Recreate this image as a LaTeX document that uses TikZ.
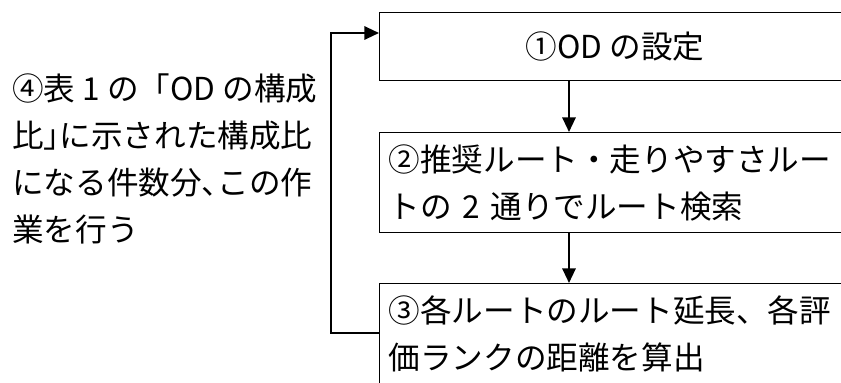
\documentclass[tikz,border=0pt]{standalone}
\usepackage{fontspec}
\setmainfont{Noto Sans CJK JP}
\newfontfamily\halfpunct[RawFeature=+halt]{Noto Sans CJK JP}
\usetikzlibrary{positioning,arrows.meta}
\tikzset{
  stepbox/.style={rectangle,draw,line width=1.1pt,minimum width=353.25pt,inner xsep=6.75pt,inner ysep=0pt,
                  font=\fontsize{23.7pt}{35.25pt}\selectfont},
  twoline/.style={stepbox,minimum height=75pt,text width=339.75pt,align=left},
  note/.style={inner sep=0pt,align=left,font=\fontsize{23.7pt}{35.25pt}\selectfont},
  flow/.style={-{Triangle[length=11pt,width=10pt]},line width=1.6pt},
}
\begin{document}
\begin{tikzpicture}[x=0.75pt,y=-0.75pt]
  \useasboundingbox (0,0) rectangle (841,382);
  \clip (0,0) rectangle (841,382);
  % steps
  \node[stepbox,minimum height=51pt,anchor=north west] (setod) at (379,12) {①OD の設定};
  \node[twoline,anchor=north west] (search) at (379,132) {②推奨ルート・走りやすさルー\\トの 2 通りでルート検索};
  \node[twoline,anchor=north west] (calc) at (379,283) {③各ルートのルート延長、各評\\価ランクの距離を算出};
  % repeat note
  \node[note,anchor=north west] (repeat) at (12,73)
    {④表 1 の「OD の構成\\比{\halfpunct 」}に示された構成比\\になる件数分{\halfpunct 、}この作\\業を行う};
  % arrows
  \coordinate (col) at (569,0);
  \coordinate (rail) at (331,33);
  \draw[flow] (setod.south -| col) -- (search.north -| col);
  \draw[flow] (search.south -| col) -- (calc.north -| col);
  \draw[flow] ([yshift=-37.5pt]calc.north west) -| (rail) -- (rail -| setod.west);
\end{tikzpicture}
\end{document}
